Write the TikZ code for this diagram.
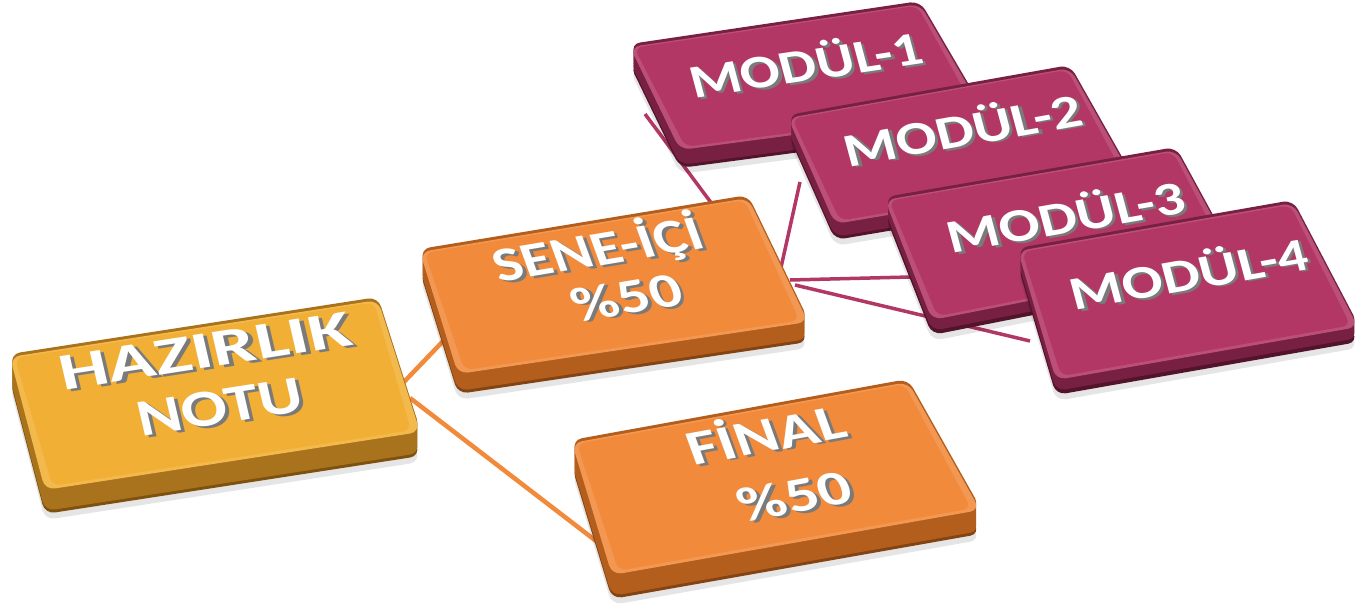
\documentclass[tikz,border=0pt]{standalone}
\usepackage{fontspec}
\newfontfamily\lblfont{Carlito}
\usetikzlibrary{calc}
\definecolor{goldtop}{HTML}{F2AF35}
\definecolor{goldside}{HTML}{A8731C}
\definecolor{golddark}{HTML}{7E520E}
\definecolor{orgtop}{HTML}{F18A3B}
\definecolor{orgside}{HTML}{B35E1D}
\definecolor{orgdark}{HTML}{844312}
\definecolor{magtop}{HTML}{B23765}
\definecolor{magside}{HTML}{782042}
\definecolor{magdark}{HTML}{52132B}
\definecolor{shadowgray}{HTML}{7A7A7A}
\newcommand{\platefill}[3]{\fill[#3,rounded corners=10pt] ($(#1TL)+(0,#2)$) -- ($(#1TR)+(0,#2)$) -- ($(#1BR)+(0,#2)$) -- ($(#1BL)+(0,#2)$) -- cycle;}
\newcommand{\plate}[5]{%
  \platefill{#1}{#2+6}{black,opacity=0.10}
  \platefill{#1}{#2}{#5}
  \foreach \s in {0,2,...,#2}{\platefill{#1}{\s-3}{#4}}
  \platefill{#1}{0}{#3!88!white}
  \fill[#3,rounded corners=8pt] ($(#1TL)!0.012!(#1BR)$) -- ($(#1TR)!0.012!(#1BL)$) -- ($(#1BR)!0.022!(#1TL)$) -- ($(#1BL)!0.022!(#1TR)$) -- cycle;
}
\newcommand{\sh}[1]{\smash{\rlap{\kern2.4pt\raisebox{-2.4pt}{\textcolor{shadowgray}{#1}}}#1}\vphantom{H}}
\tikzset{
  lbl/.style={text=white, inner sep=0pt, anchor=center, font=\lblfont\bfseries\fontsize{50}{60}\selectfont},
  orgline/.style={draw=orgtop, line width=4.5pt},
  magline/.style={draw=magtop, line width=3.5pt}
}
\begin{document}
\begin{tikzpicture}[x=1pt,y=-1pt]
\useasboundingbox (0,0) rectangle (1360,610);
\fill[white] (0,0) rectangle (1360,610);
% box corners
\coordinate (hTL) at (10,357);  \coordinate (hTR) at (378,300);  \coordinate (hBR) at (420,432);  \coordinate (hBL) at (45,490);
\coordinate (sTL) at (420,252); \coordinate (sTR) at (748,198);  \coordinate (sBR) at (808,322);  \coordinate (sBL) at (458,374);
\coordinate (fTL) at (572,443); \coordinate (fTR) at (908,382);  \coordinate (fBR) at (980,510);  \coordinate (fBL) at (612,575);
\coordinate (aTL) at (630,47);  \coordinate (aTR) at (920,4);    \coordinate (aBR) at (982,110);  \coordinate (aBL) at (680,150);
\coordinate (bTL) at (788,118); \coordinate (bTR) at (1070,68);  \coordinate (bBR) at (1130,174); \coordinate (bBL) at (835,224);
\coordinate (cTL) at (885,200); \coordinate (cTR) at (1176,150); \coordinate (cBR) at (1236,260); \coordinate (cBL) at (932,320);
\coordinate (dTL) at (1018,251);\coordinate (dTR) at (1293,203); \coordinate (dBR) at (1358,327); \coordinate (dBL) at (1056,380);
% connector ends
\coordinate (c1a) at (402,384); \coordinate (c1b) at (448,336);
\coordinate (c2a) at (410,398); \coordinate (c2b) at (600,544);
\coordinate (c3a) at (718,212); \coordinate (c3b) at (645,114);
\coordinate (c4a) at (780,272); \coordinate (c4b) at (800,182);
\coordinate (c5a) at (790,280); \coordinate (c5b) at (910,277);
\coordinate (c6a) at (795,285); \coordinate (c6b) at (1030,341);
% connectors
\draw[orgline] (c1a) -- (c1b);
\draw[orgline] (c2a) -- (c2b);
\draw[magline] (c3a) -- (c3b);
\draw[magline] (c4a) -- (c4b);
\draw[magline] (c5a) -- (c5b);
\draw[magline] (c6a) -- (c6b);
% boxes and labels
\plate{h}{24}{goldtop}{goldside}{golddark}
\node[lbl, cm={1.541,0.239,-0.236,1.023,(0,0)}] (hazA) at (205,351) {\sh{HAZIRLIK}};
\node[lbl, cm={1.334,0.207,-0.236,1.023,(0,0)}] (hazB) at (220,407) {\sh{NOTU}};
\plate{s}{20}{orgtop}{orgside}{orgdark}
\node[lbl, cm={1.206,0.202,-0.342,0.940,(0,0)}] (seneA) at (598,250) {\sh{SENE-İÇİ}};
\node[lbl, cm={1.232,0.206,-0.342,0.940,(0,0)}] (seneB) at (627,298) {\sh{\%50}};
\plate{f}{24}{orgtop}{orgside}{orgdark}
\node[lbl, cm={1.299,0.236,-0.342,0.940,(0,0)}] (finA) at (766,436) {\sh{FİNAL}};
\node[lbl, cm={1.279,0.233,-0.342,0.940,(0,0)}] (finB) at (795,497) {\sh{\%50}};
\plate{a}{18}{magtop}{magside}{magdark}
\node[lbl, cm={1.157,0.174,-0.246,0.918,(0,0)}] (m1) at (806,66) {\sh{MODÜL-1}};
\plate{b}{16}{magtop}{magside}{magdark}
\node[lbl, cm={1.181,0.212,-0.246,0.918,(0,0)}] (m2) at (963,131) {\sh{MODÜL-2}};
\plate{c}{15}{magtop}{magside}{magdark}
\node[lbl, cm={1.182,0.206,-0.246,0.918,(0,0)}] (m3) at (1066,218) {\sh{MODÜL-3}};
\plate{d}{15}{magtop}{magside}{magdark}
\node[lbl, cm={1.181,0.210,-0.246,0.918,(0,0)}] (m4) at (1189,275) {\sh{MODÜL-4}};
\end{tikzpicture}
\end{document}
